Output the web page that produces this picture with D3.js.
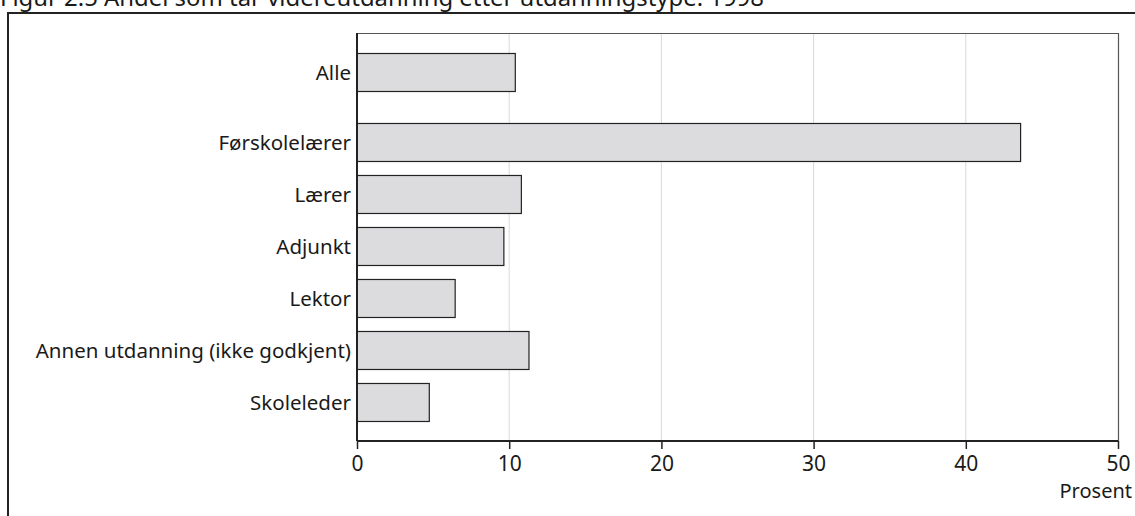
<!DOCTYPE html>
<html><head><meta charset="utf-8">
<script src="https://cdn.jsdelivr.net/npm/d3@7"></script>
<style>body{margin:0;background:#fff}svg{display:block}text{font-family:"Noto Sans",sans-serif;fill:#1a1a1a}</style>
</head><body>
<svg id="c" width="1135" height="516"></svg>
<script>
const title = "Figur 2.5 Andel som tar videreutdanning etter utdanningstype. 1998";
const categories = ["Alle","Førskolelærer","Lærer","Adjunkt","Lektor","Annen utdanning (ikke godkjent)","Skoleleder"];
const values = [10.4, 43.6, 10.8, 9.65, 6.45, 11.3, 4.75];
const xTicks = [0,10,20,30,40,50];
const xLabel = "Prosent";

const svg = d3.select("#c");
const L = 357, R = 1118, T = 33, B = 441;
const x = d3.scaleLinear().domain([0,50]).range([L,R]);
// row positions: first row ("Alle") separated by extra gap
const rowPos = categories.map((d,i)=> i===0 ? 0 : i + 0.346);
const y = d3.scaleLinear().domain([0, 7.346]).range([53, 53+52*7.346]);
const barH = 38;

// outer frame
svg.append("path").attr("d","M8,520 L8,13 L1140,13").attr("fill","none").attr("stroke","#222").attr("stroke-width",2);
svg.append("text").attr("x",0).attr("y",6).attr("font-size",23.9).text(title);

// grid
svg.append("g").selectAll("line").data(xTicks.filter(t=>t>0&&t<50)).join("line")
  .attr("x1",d=>x(d)).attr("x2",d=>x(d)).attr("y1",T).attr("y2",B)
  .attr("stroke","#d9d9d9").attr("stroke-width",1);
// plot frame top & right
svg.append("path").attr("d",`M${L},${T+0.5} L${R+0.5},${T+0.5} L${R+0.5},${B}`).attr("fill","none").attr("stroke","#555").attr("stroke-width",1.2);

// bars
svg.append("g").selectAll("rect").data(categories).join("rect")
  .attr("x",x(0)).attr("y",(d,i)=>y(rowPos[i])+0.5)
  .attr("width",(d,i)=>x(values[i])-x(0)).attr("height",barH)
  .attr("fill","#dcdcde").attr("stroke","#222").attr("stroke-width",1.2);

// category labels
svg.append("g").selectAll("text").data(categories).join("text")
  .attr("x",L-6).attr("y",(d,i)=>y(rowPos[i])+barH/2+0.5).attr("dy","0.35em")
  .attr("text-anchor","end").attr("font-size",20.5).text(d=>d);

// y axis line
svg.append("line").attr("x1",L).attr("x2",L).attr("y1",T).attr("y2",B).attr("stroke","#222").attr("stroke-width",2);

// x axis
const xa = svg.append("g").attr("transform",`translate(0,${B})`)
  .call(d3.axisBottom(x).tickValues(xTicks).tickSize(8).tickPadding(7).tickFormat(d3.format("d")));
xa.select(".domain").attr("stroke","#222").attr("stroke-width",2).attr("d",`M${L},0H${R}`);
xa.selectAll(".tick line").attr("stroke","#222").attr("stroke-width",1.5);
xa.selectAll(".tick text").attr("font-size",21).attr("font-family","Noto Sans").attr("fill","#1a1a1a");

svg.append("text").attr("x",1132).attr("y",498).attr("text-anchor","end").attr("font-size",20).text(xLabel);
</script>
</body></html>
